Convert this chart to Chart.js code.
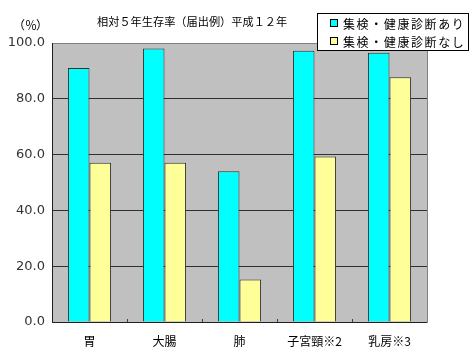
<!DOCTYPE html>
<html><head><meta charset="utf-8">
<script src="https://cdn.jsdelivr.net/npm/chart.js@4"></script>
<style>html,body{margin:0;padding:0;background:#fff}#w{width:471px;height:359px;position:relative}</style>
</head><body><div id="w"><canvas id="c" width="471" height="359"></canvas></div>
<script>
const categories = ["胃", "大腸", "肺", "子宮頸※2", "乳房※3"];
const withCheckup = [91.0, 98.0, 54.0, 97.2, 96.5];
const withoutCheckup = [57.1, 57.1, 15.2, 59.3, 87.7];
const seriesNames = ["集検・健康診断あり", "集検・健康診断なし"];
const yTicks = [0, 20, 40, 60, 80, 100];
const titleText = "相対５年生存率（届出例）平成１２年";
const unitText = "（％）";

const jp = '"Noto Sans CJK JP", "Noto Sans", sans-serif';
const num = '"DejaVu Sans", "Liberation Sans", sans-serif';

const bgPlugin = {
  id: 'bg',
  beforeDraw(chart) {
    const {ctx, chartArea: a} = chart;
    ctx.save();
    ctx.fillStyle = '#c0c0c0';
    ctx.fillRect(a.left, a.top, a.right - a.left, a.bottom - a.top);
    ctx.restore();
  },
  afterDraw(chart) {
    const {ctx, chartArea: a} = chart;
    ctx.save();
    ctx.strokeStyle = '#808080';
    ctx.lineWidth = 1;
    ctx.beginPath();
    ctx.moveTo(a.left, a.top + 0.5); ctx.lineTo(a.right + 0.5, a.top + 0.5); ctx.lineTo(a.right + 0.5, a.bottom);
    ctx.stroke();
    ctx.strokeStyle = '#202020';
    ctx.beginPath();
    ctx.moveTo(a.left + 0.5, a.top); ctx.lineTo(a.left + 0.5, a.bottom + 0.5); ctx.lineTo(a.right + 0.5, a.bottom + 0.5);
    ctx.stroke();
    // small category tick marks on x axis
    const xs = chart.scales.x;
    ctx.strokeStyle = '#404040';
    for (let i = 1; i < categories.length; i++) {
      const x = Math.round((xs.getPixelForValue(i - 1) + xs.getPixelForValue(i)) / 2) + 0.5;
      ctx.beginPath(); ctx.moveTo(x, a.bottom); ctx.lineTo(x, a.bottom - 3); ctx.stroke();
    }
    // title & unit
    ctx.fillStyle = '#000';
    ctx.font = '11.2px ' + jp;
    ctx.textBaseline = 'middle';
    ctx.textAlign = 'left';
    ctx.fillText(titleText, 97, 22);
    ctx.font = '12px ' + jp;
    ctx.textAlign = 'center';
    const u = [...unitText];
    [19, 31, 42].forEach((x, i) => ctx.fillText(u[i], x, 25));
    ctx.textAlign = 'left';
    // legend
    const lx = 317, ly = 13, lw = 151, lh = 37;
    ctx.fillStyle = '#fff';
    ctx.fillRect(lx, ly, lw, lh);
    ctx.strokeStyle = '#000';
    ctx.strokeRect(lx + 0.5, ly + 0.5, lw, lh);
    const cols = chart.data.datasets.map(d => d.backgroundColor);
    chart.data.datasets.forEach((d, i) => {
      const y = ly + 10 + i * 18;
      ctx.fillStyle = cols[i];
      ctx.fillRect(lx + 13, y - 4, 8, 8);
      ctx.strokeStyle = '#000';
      ctx.strokeRect(lx + 13.5, y - 3.5, 7, 7);
      ctx.fillStyle = '#000';
      ctx.font = '12px ' + jp;
      const chars = [...d.label];
      let x = lx + 26;
      chars.forEach(ch => { ctx.fillText(ch, x, y + 1); x += 13.6; });
    });
    ctx.restore();
  }
};

new Chart(document.getElementById('c'), {
  type: 'bar',
  data: {
    labels: categories,
    datasets: [
      {label: seriesNames[0], data: withCheckup, backgroundColor: '#00ffff', borderColor: '#303030', borderWidth: 1, borderSkipped: 'bottom'},
      {label: seriesNames[1], data: withoutCheckup, backgroundColor: '#ffff99', borderColor: '#303030', borderWidth: 1, borderSkipped: 'bottom'}
    ]
  },
  options: {
    responsive: false,
    animation: false,
    layout: {padding: {top: 43, right: 44, left: 0, bottom: 0}},
    plugins: {legend: {display: false}, title: {display: false}, tooltip: {enabled: false}},
    datasets: {bar: {categoryPercentage: 0.575, barPercentage: 1.0}},
    scales: {
      x: {
        grid: {display: false, drawTicks: false},
        border: {display: false},
        ticks: {font: {family: jp, size: 12}, color: '#000', padding: 12},
        afterFit(s) { s.height = 37; }
      },
      y: {
        min: 0, max: 100,
        afterBuildTicks(s) { s.ticks = yTicks.map(v => ({value: v})); },
        grid: {color: '#303030', lineWidth: 1, drawTicks: false},
        border: {display: false},
        ticks: {font: {family: num, size: 13}, color: '#333', padding: 7, callback: v => v.toFixed(1)},
        afterFit(s) { s.width = 52; }
      }
    }
  },
  plugins: [bgPlugin]
});
</script></body></html>
